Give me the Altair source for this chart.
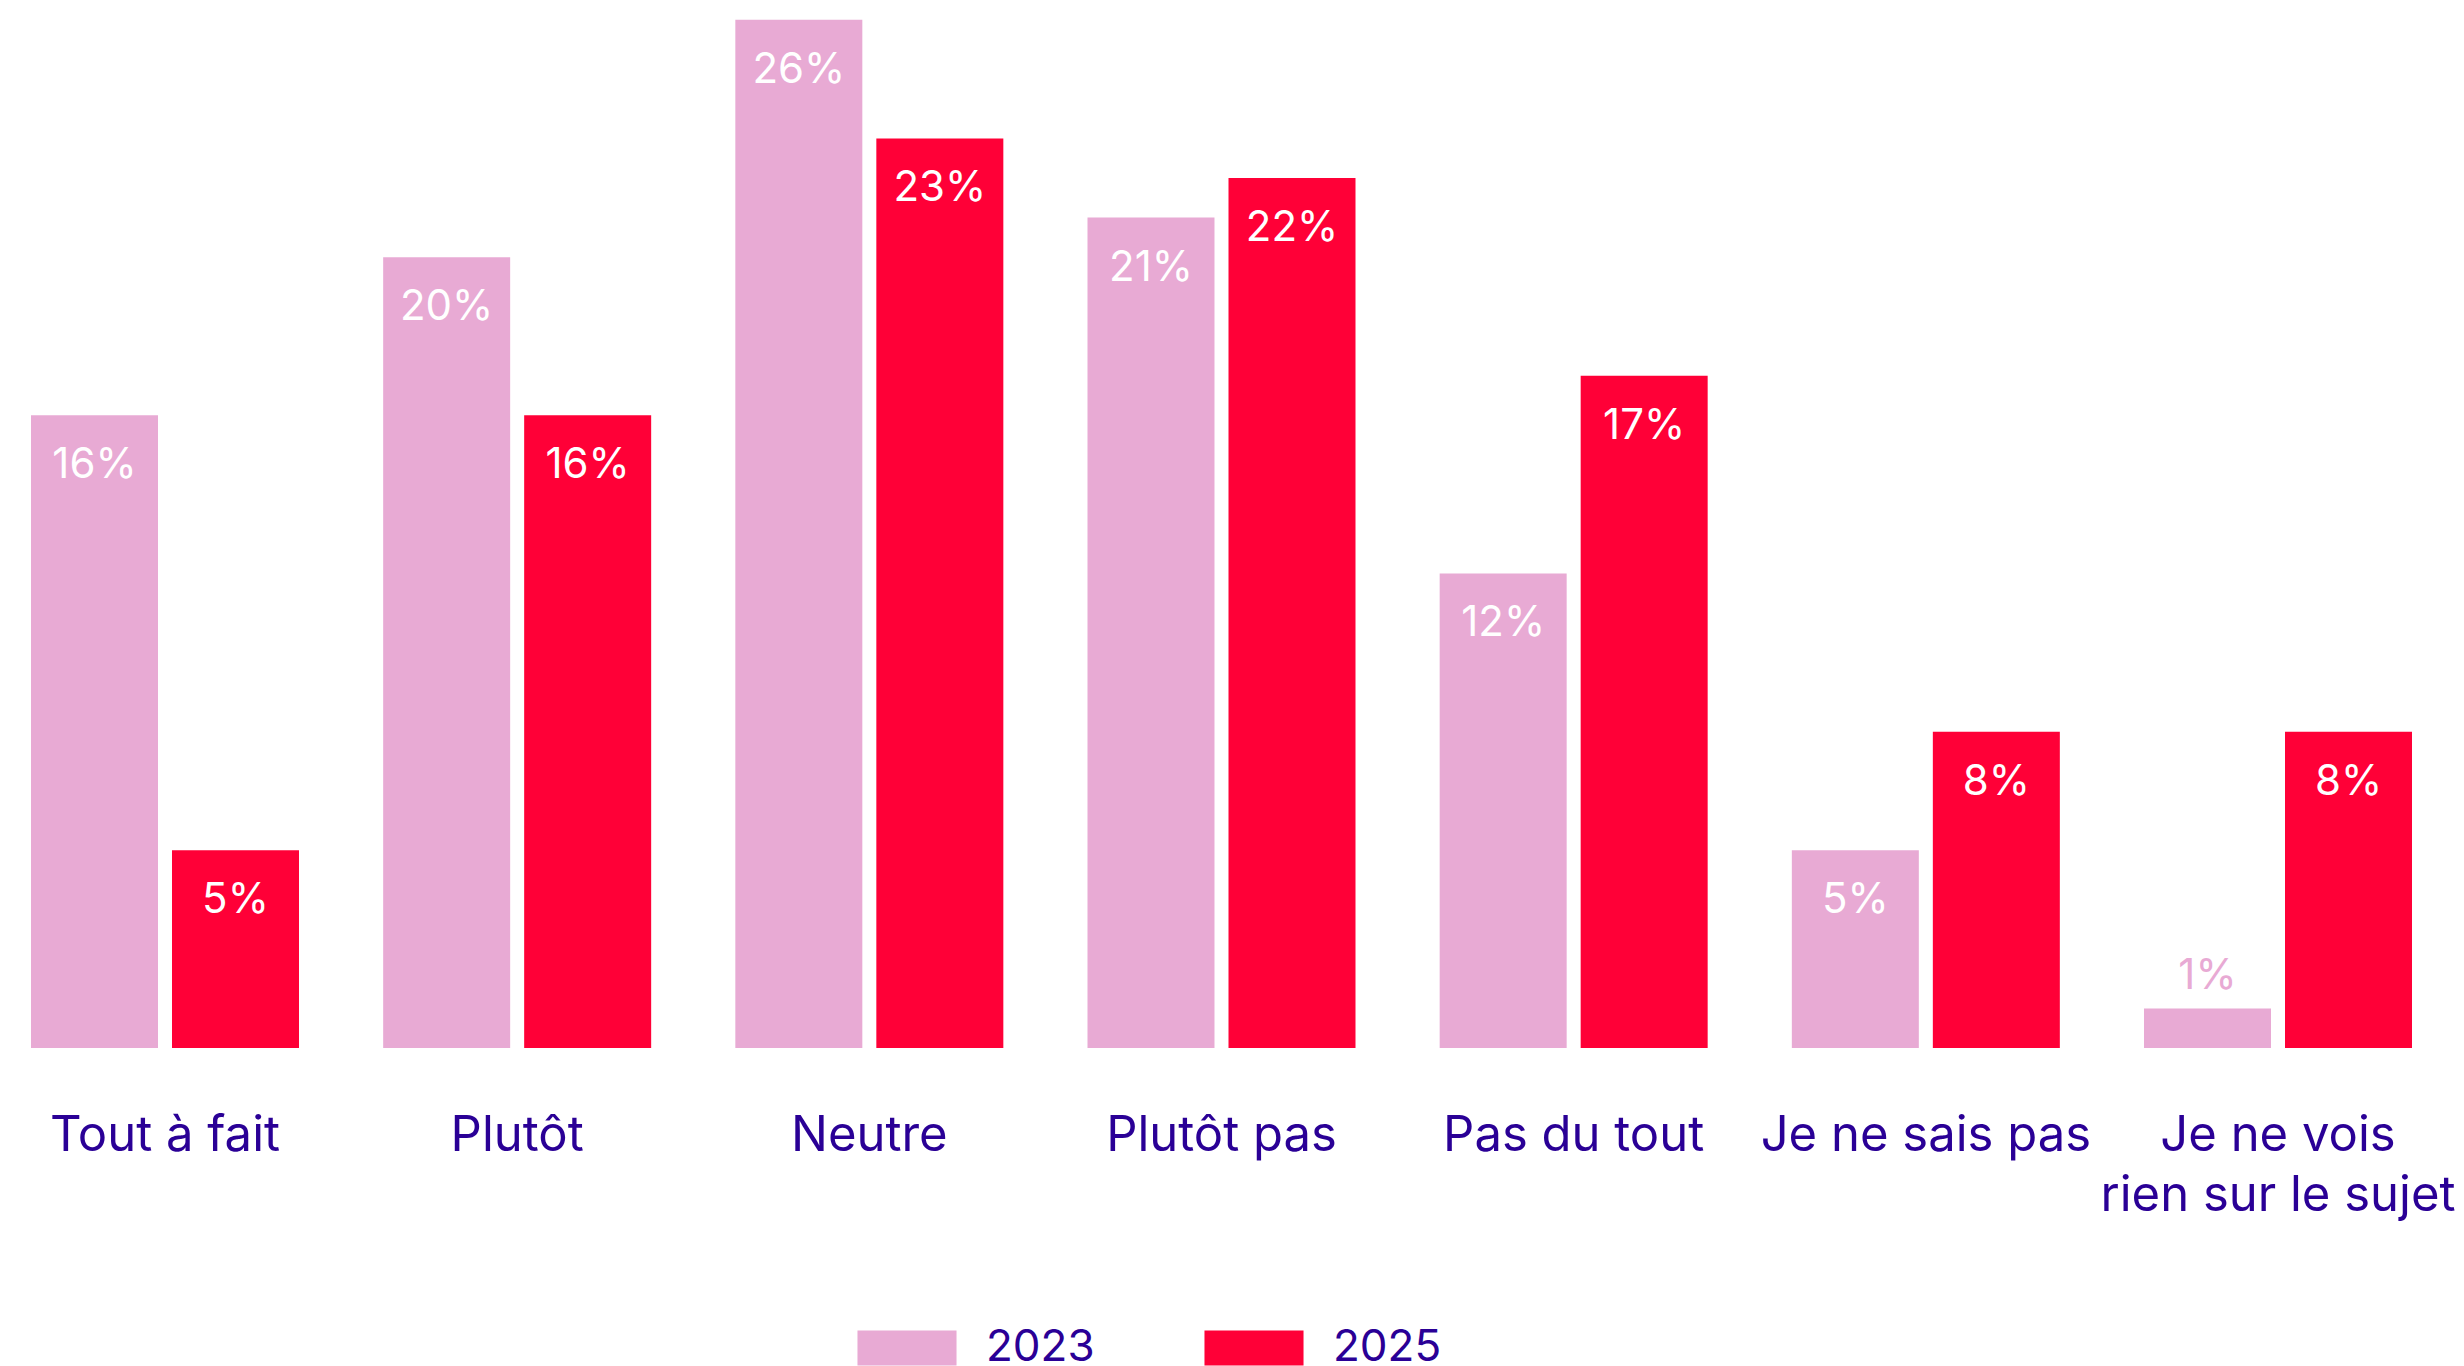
import altair as alt
import pandas as pd

categories = ["Tout à fait", "Plutôt", "Neutre", "Plutôt pas", "Pas du tout",
              "Je ne sais pas", "Je ne vois rien sur le sujet"]
years = ["2023", "2025"]
values_2023 = [16, 20, 26, 21, 12, 5, 1]
values_2025 = [5, 16, 23, 22, 17, 8, 8]
colors = ["#E8AAD4", "#FF0037"]
text_color = "#2A0096"

rows = []
for c, a, b in zip(categories, values_2023, values_2025):
    rows.append({"cat": c, "year": "2023", "value": a})
    rows.append({"cat": c, "year": "2025", "value": b})
df = pd.DataFrame(rows)
df["label"] = df["value"].astype(str) + "%"

FONT = "Inter"

x = alt.X("cat:N", sort=categories,
          scale=alt.Scale(paddingInner=0.239, paddingOuter=0.0653),
          axis=alt.Axis(title=None, labelAngle=0, domain=False, ticks=False, tickSize=0,
                        labelFont=FONT, labelFontSize=49, labelColor=text_color,
                        labelBaseline="alphabetic", labelPadding=102, labelLineHeight=60,
                        labelLimit=0, labelOverlap=False,
                        labelExpr="datum.label == 'Je ne vois rien sur le sujet' ? ['Je ne vois', 'rien sur le sujet'] : datum.label"))
xo = alt.XOffset("year:N", sort=years, scale=alt.Scale(paddingInner=0.0993, paddingOuter=0))
y = alt.Y("value:Q", scale=alt.Scale(domain=[0, 26.3], nice=False, zero=True), axis=None)

bars = alt.Chart(df).mark_bar().encode(
    x=x, xOffset=xo, y=y,
    color=alt.Color("year:N", sort=years,
                    scale=alt.Scale(domain=years, range=colors),
                    legend=alt.Legend(title=None, orient="none", direction="horizontal",
                                      legendX=877, legendY=1318,
                                      symbolType="M-2.83,-1L2.83,-1L2.83,1L-2.83,1Z",
                                      symbolSize=1225, symbolStrokeWidth=0,
                                      labelFont=FONT, labelFontSize=44, labelColor=text_color,
                                      labelLimit=0,
                                      labelOffset=57, columnPadding=109))
)

inside = alt.Chart(df).transform_filter("datum.value >= 3").mark_text(
    baseline="alphabetic", dy=63, font=FONT, fontSize=42, color="white"
).encode(x=x, xOffset=xo, y=y, text="label:N")

outside = alt.Chart(df).transform_filter("datum.value < 3").mark_text(
    baseline="alphabetic", dy=-19, font=FONT, fontSize=42, color=colors[0]
).encode(x=x, xOffset=xo, y=y, text="label:N")

chart = alt.layer(bars, inside, outside).properties(
    width=2427, height=1040, padding=0, background="white"
).configure_view(stroke=None)

chart.save("out.html", embed_options={"renderer": "svg", "actions": False})
